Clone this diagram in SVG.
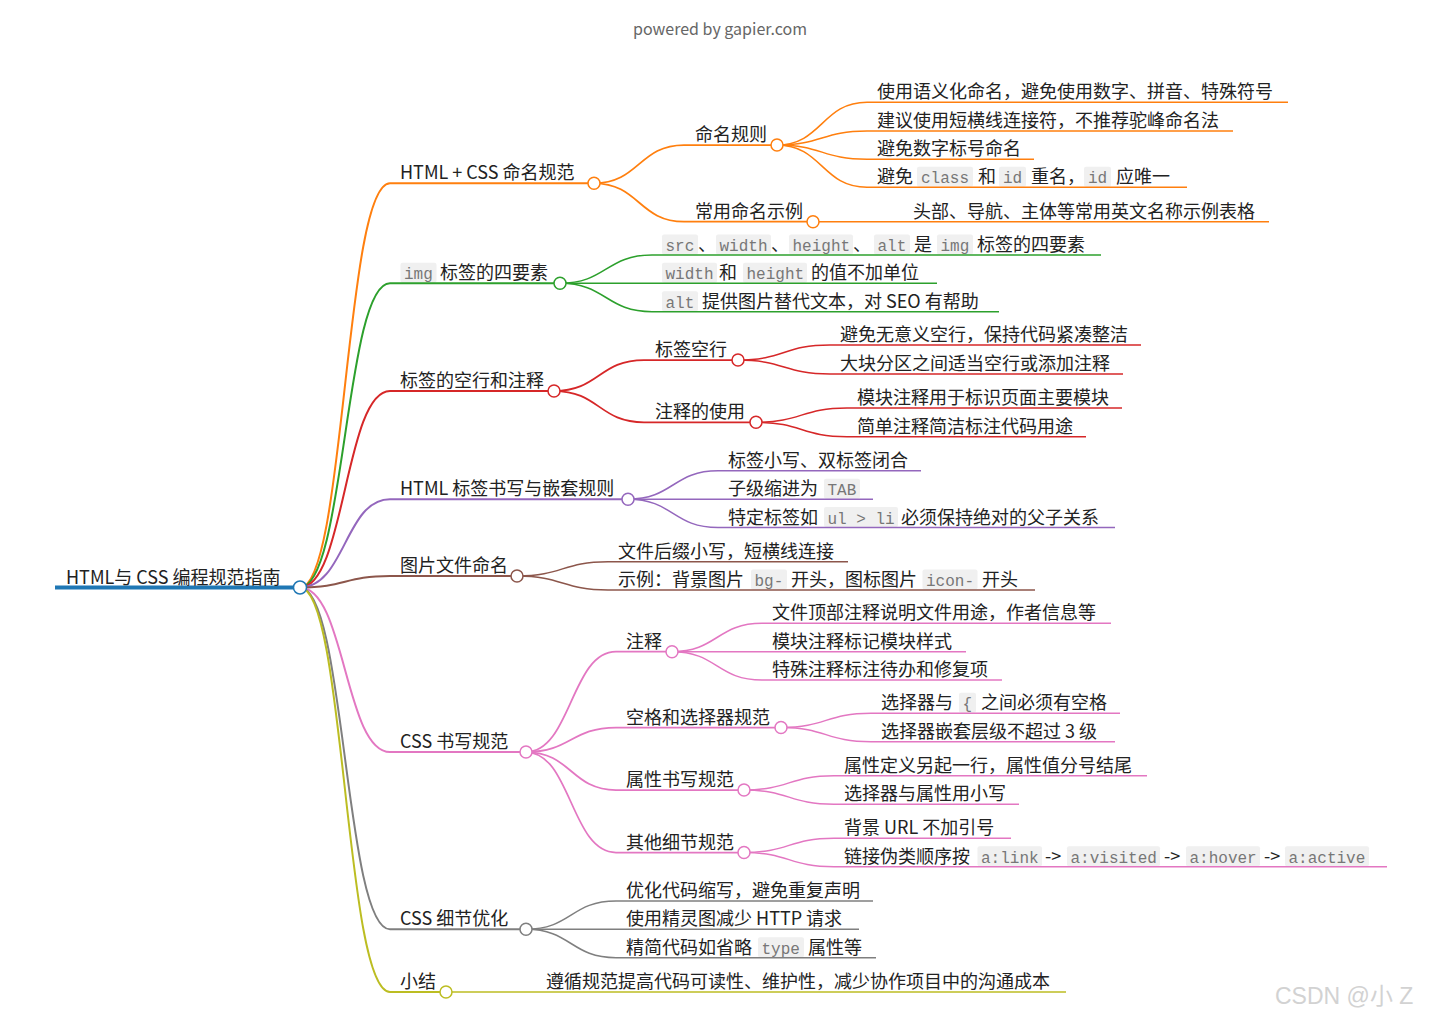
<svg xmlns="http://www.w3.org/2000/svg" width="1440" height="1021" viewBox="0 0 1440 1021">
<style>
text{font-family:"Noto Sans CJK SC","Noto Sans",sans-serif;font-size:18px;fill:#222}
text.m{font-family:"Liberation Mono","DejaVu Sans Mono",monospace;font-size:16px;fill:#777}
text.title{font-size:16px;fill:#666}
text.wm{font-family:"Liberation Sans","Noto Sans CJK SC",sans-serif;font-size:23px;fill:#d2d2d2}
.cb{fill:#f0f0f0}
path{fill:none}
.l1{stroke-width:2}
.l2{stroke-width:1.75}
.l3{stroke-width:1.5}
.dot{fill:#fff;stroke-width:1.5}
.c0{stroke:#1f77b4}.c1{stroke:#ff7f0e}.c2{stroke:#2ca02c}.c3{stroke:#d62728}.c4{stroke:#9467bd}
.c5{stroke:#8c564b}.c6{stroke:#e377c2}.c7{stroke:#7f7f7f}.c8{stroke:#bcbd22}
</style>
<text class="title" x="720" y="35" text-anchor="middle">powered by gapier.com</text>
<g id="connectors">
<path class="c1 l1" d="M300 587.5C345 587.5 345 183.3 390 183.3"/>
<path class="c2 l1" d="M300 587.5C345 587.5 345 283.3 390 283.3"/>
<path class="c3 l1" d="M300 587.5C345 587.5 345 391 390 391"/>
<path class="c4 l1" d="M300 587.5C345 587.5 345 499.2 390 499.2"/>
<path class="c5 l1" d="M300 587.5C345 587.5 345 576 390 576"/>
<path class="c6 l1" d="M300 587.5C345 587.5 345 752 390 752"/>
<path class="c7 l1" d="M300 587.5C345 587.5 345 929.3 390 929.3"/>
<path class="c8 l1" d="M300 587.5C345 587.5 345 992 390 992"/>
<path class="c1 l2" d="M594 183.3C639 183.3 639 145 684 145"/>
<path class="c1 l2" d="M594 183.3C639 183.3 639 221.7 684 221.7"/>
<path class="c1 l3" d="M777 145C822 145 822 102.3 867 102.3"/>
<path class="c1 l3" d="M777 145C822 145 822 131 867 131"/>
<path class="c1 l3" d="M777 145C822 145 822 159.3 867 159.3"/>
<path class="c1 l3" d="M777 145C822 145 822 187.3 867 187.3"/>
<path class="c1 l3" d="M813 221.7H903"/>
<path class="c2 l3" d="M560 283.3C606 283.3 606 255 652 255"/>
<path class="c2 l3" d="M560 283.3H652"/>
<path class="c2 l3" d="M560 283.3C606 283.3 606 311.7 652 311.7"/>
<path class="c3 l2" d="M554 391C599 391 599 360 644 360"/>
<path class="c3 l2" d="M554 391C599 391 599 422.3 644 422.3"/>
<path class="c3 l3" d="M738 360C784 360 784 345 830 345"/>
<path class="c3 l3" d="M738 360C784 360 784 374 830 374"/>
<path class="c3 l3" d="M756 422.3C801.5 422.3 801.5 408 847 408"/>
<path class="c3 l3" d="M756 422.3C801.5 422.3 801.5 436.7 847 436.7"/>
<path class="c4 l3" d="M628 499.2C673 499.2 673 470.8 718 470.8"/>
<path class="c4 l3" d="M628 499.2H718"/>
<path class="c4 l3" d="M628 499.2C673 499.2 673 527.6 718 527.6"/>
<path class="c5 l3" d="M517 576C562.5 576 562.5 561.7 608 561.7"/>
<path class="c5 l3" d="M517 576C562.5 576 562.5 590 608 590"/>
<path class="c6 l2" d="M526 752C571 752 571 651.7 616 651.7"/>
<path class="c6 l2" d="M526 752C571 752 571 727.5 616 727.5"/>
<path class="c6 l2" d="M526 752C571 752 571 790 616 790"/>
<path class="c6 l2" d="M526 752C571 752 571 852.5 616 852.5"/>
<path class="c6 l3" d="M672 651.7C717 651.7 717 623.3 762 623.3"/>
<path class="c6 l3" d="M672 651.7H762"/>
<path class="c6 l3" d="M672 651.7C717 651.7 717 680 762 680"/>
<path class="c6 l3" d="M781 727.5C826 727.5 826 713.3 871 713.3"/>
<path class="c6 l3" d="M781 727.5C826 727.5 826 741.7 871 741.7"/>
<path class="c6 l3" d="M744 790C789 790 789 775.7 834 775.7"/>
<path class="c6 l3" d="M744 790C789 790 789 804.3 834 804.3"/>
<path class="c6 l3" d="M744 852.5C789 852.5 789 838.3 834 838.3"/>
<path class="c6 l3" d="M744 852.5C789 852.5 789 866.7 834 866.7"/>
<path class="c7 l3" d="M526 929.3C571 929.3 571 901 616 901"/>
<path class="c7 l3" d="M526 929.3H616"/>
<path class="c7 l3" d="M526 929.3C571 929.3 571 957.7 616 957.7"/>
<path class="c8 l3" d="M446 992H536"/>
</g>

<g id="root">
<path class="c0" stroke-width="4" d="M55 587.5H300"/>
<circle class="dot c0" stroke-width="2" cx="300" cy="587.5" r="6.5"/>
<text x="66" y="583.5">HTML与 CSS 编程规范指南</text>
</g>

<!-- branch 1 -->
<g id="n1">
<path class="c1 l1" d="M390 183.3H594"/>
<circle class="dot c1" cx="594" cy="183.3" r="6"/>
<text x="400" y="179.3">HTML + CSS 命名规范</text>
</g>
<g id="n1-1">
<path class="c1 l2" d="M684 145H777"/>
<circle class="dot c1" cx="777" cy="145" r="6"/>
<text x="695" y="141">命名规则</text>
</g>
<g id="n1-1-1">
<path class="c1 l3" d="M867 102.3H1288"/>
<text x="877" y="98.3">使用语义化命名，避免使用数字、拼音、特殊符号</text>
</g>
<g id="n1-1-2">
<path class="c1 l3" d="M867 131H1233"/>
<text x="877" y="127">建议使用短横线连接符，不推荐驼峰命名法</text>
</g>
<g id="n1-1-3">
<path class="c1 l3" d="M867 159.3H1034"/>
<text x="877" y="155.3">避免数字标号命名</text>
</g>
<g id="n1-1-4">
<rect class="cb" x="917" y="166.8" width="56" height="20" rx="2"/>
<rect class="cb" x="999" y="166.8" width="27" height="20" rx="2"/>
<rect class="cb" x="1084" y="166.8" width="27" height="20" rx="2"/>
<path class="c1 l3" d="M867 187.3H1187"/>
<text x="877" y="183.3">避免</text>
<text class="m" x="921" y="183.3">class</text>
<text x="978" y="183.3">和</text>
<text class="m" x="1003" y="183.3">id</text>
<text x="1031" y="183.3">重名，</text>
<text class="m" x="1088" y="183.3">id</text>
<text x="1116" y="183.3">应唯一</text>
</g>
<g id="n1-2">
<path class="c1 l2" d="M684 221.7H813"/>
<circle class="dot c1" cx="813" cy="221.7" r="6"/>
<text x="695" y="217.7">常用命名示例</text>
</g>
<g id="n1-2-1">
<path class="c1 l3" d="M903 221.7H1269"/>
<text x="913" y="217.7">头部、导航、主体等常用英文名称示例表格</text>
</g>

<!-- branch 2 -->
<g id="n2">
<rect class="cb" x="400.5" y="262.8" width="36" height="20" rx="2"/>
<path class="c2 l1" d="M390 283.3H560"/>
<circle class="dot c2" cx="560" cy="283.3" r="6"/>
<text class="m" x="404" y="279.3">img</text>
<text x="440" y="279.3">标签的四要素</text>
</g>
<g id="n2-1">
<rect class="cb" x="662" y="234.5" width="36" height="20" rx="2"/>
<rect class="cb" x="716" y="234.5" width="55" height="20" rx="2"/>
<rect class="cb" x="789" y="234.5" width="64" height="20" rx="2"/>
<rect class="cb" x="874" y="234.5" width="36" height="20" rx="2"/>
<rect class="cb" x="937" y="234.5" width="36" height="20" rx="2"/>
<path class="c2 l3" d="M652 255H1101"/>
<text class="m" x="665.5" y="251">src</text>
<text x="698" y="251">、</text>
<text class="m" x="719.5" y="251">width</text>
<text x="771" y="251">、</text>
<text class="m" x="792.5" y="251">height</text>
<text x="853" y="251">、</text>
<text class="m" x="877.5" y="251">alt</text>
<text x="914" y="251">是</text>
<text class="m" x="940.5" y="251">img</text>
<text x="977" y="251">标签的四要素</text>
</g>
<g id="n2-2">
<rect class="cb" x="662" y="262.8" width="55" height="20" rx="2"/>
<rect class="cb" x="743" y="262.8" width="64" height="20" rx="2"/>
<path class="c2 l3" d="M652 283.3H937"/>
<text class="m" x="665.5" y="279.3">width</text>
<text x="719" y="279.3">和</text>
<text class="m" x="746.5" y="279.3">height</text>
<text x="811" y="279.3">的值不加单位</text>
</g>
<g id="n2-3">
<rect class="cb" x="662" y="291.2" width="36" height="20" rx="2"/>
<path class="c2 l3" d="M652 311.7H999"/>
<text class="m" x="665.5" y="307.7">alt</text>
<text x="702" y="307.7">提供图片替代文本，对 SEO 有帮助</text>
</g>

<!-- branch 3 -->
<g id="n3">
<path class="c3 l1" d="M390 391H554"/>
<circle class="dot c3" cx="554" cy="391" r="6"/>
<text x="400" y="387">标签的空行和注释</text>
</g>
<g id="n3-1">
<path class="c3 l2" d="M644 360H738"/>
<circle class="dot c3" cx="738" cy="360" r="6"/>
<text x="655" y="356">标签空行</text>
</g>
<g id="n3-1-1">
<path class="c3 l3" d="M830 345H1141"/>
<text x="840" y="341">避免无意义空行，保持代码紧凑整洁</text>
</g>
<g id="n3-1-2">
<path class="c3 l3" d="M830 374H1123"/>
<text x="840" y="370">大块分区之间适当空行或添加注释</text>
</g>
<g id="n3-2">
<path class="c3 l2" d="M644 422.3H756"/>
<circle class="dot c3" cx="756" cy="422.3" r="6"/>
<text x="655" y="418.3">注释的使用</text>
</g>
<g id="n3-2-1">
<path class="c3 l3" d="M847 408H1122"/>
<text x="857" y="404">模块注释用于标识页面主要模块</text>
</g>
<g id="n3-2-2">
<path class="c3 l3" d="M847 436.7H1086"/>
<text x="857" y="432.7">简单注释简洁标注代码用途</text>
</g>

<!-- branch 4 -->
<g id="n4">
<path class="c4 l1" d="M390 499.2H628"/>
<circle class="dot c4" cx="628" cy="499.2" r="6"/>
<text x="400" y="495.2">HTML 标签书写与嵌套规则</text>
</g>
<g id="n4-1">
<path class="c4 l3" d="M718 470.8H921"/>
<text x="728" y="466.8">标签小写、双标签闭合</text>
</g>
<g id="n4-2">
<rect class="cb" x="824" y="478.7" width="36" height="20" rx="2"/>
<path class="c4 l3" d="M718 499.2H873"/>
<text x="728" y="495.2">子级缩进为</text>
<text class="m" x="827.5" y="495.2">TAB</text>
</g>
<g id="n4-3">
<rect class="cb" x="824" y="507.1" width="74" height="20" rx="2"/>
<path class="c4 l3" d="M718 527.6H1115"/>
<text x="728" y="523.6">特定标签如</text>
<text class="m" x="827.5" y="523.6" xml:space="preserve">ul &gt; li</text>
<text x="901" y="523.6">必须保持绝对的父子关系</text>
</g>

<!-- branch 5 -->
<g id="n5">
<path class="c5 l1" d="M390 576H517"/>
<circle class="dot c5" cx="517" cy="576" r="6"/>
<text x="400" y="572">图片文件命名</text>
</g>
<g id="n5-1">
<path class="c5 l3" d="M608 561.7H848"/>
<text x="618" y="557.7">文件后缀小写，短横线连接</text>
</g>
<g id="n5-2">
<rect class="cb" x="751" y="569.5" width="36" height="20" rx="2"/>
<rect class="cb" x="922.5" y="569.5" width="55" height="20" rx="2"/>
<path class="c5 l3" d="M608 590H1035"/>
<text x="618" y="586">示例：背景图片</text>
<text class="m" x="754.5" y="586">bg-</text>
<text x="791" y="586">开头，图标图片</text>
<text class="m" x="926" y="586">icon-</text>
<text x="982" y="586">开头</text>
</g>

<!-- branch 6 -->
<g id="n6">
<path class="c6 l1" d="M390 752H526"/>
<circle class="dot c6" cx="526" cy="752" r="6"/>
<text x="400" y="748">CSS 书写规范</text>
</g>
<g id="n6-1">
<path class="c6 l2" d="M616 651.7H672"/>
<circle class="dot c6" cx="672" cy="651.7" r="6"/>
<text x="626" y="647.7">注释</text>
</g>
<g id="n6-1-1">
<path class="c6 l3" d="M762 623.3H1111"/>
<text x="772" y="619.3">文件顶部注释说明文件用途，作者信息等</text>
</g>
<g id="n6-1-2">
<path class="c6 l3" d="M762 651.7H966"/>
<text x="772" y="647.7">模块注释标记模块样式</text>
</g>
<g id="n6-1-3">
<path class="c6 l3" d="M762 680H1002"/>
<text x="772" y="676">特殊注释标注待办和修复项</text>
</g>
<g id="n6-2">
<path class="c6 l2" d="M616 727.5H781"/>
<circle class="dot c6" cx="781" cy="727.5" r="6"/>
<text x="626" y="723.5">空格和选择器规范</text>
</g>
<g id="n6-2-1">
<rect class="cb" x="959" y="692.8" width="17" height="20" rx="2"/>
<path class="c6 l3" d="M871 713.3H1120"/>
<text x="881" y="709.3">选择器与</text>
<text class="m" x="962.5" y="709.3">{</text>
<text x="981" y="709.3">之间必须有空格</text>
</g>
<g id="n6-2-2">
<path class="c6 l3" d="M871 741.7H1115"/>
<text x="881" y="737.7">选择器嵌套层级不超过 3 级</text>
</g>
<g id="n6-3">
<path class="c6 l2" d="M616 790H744"/>
<circle class="dot c6" cx="744" cy="790" r="6"/>
<text x="626" y="786">属性书写规范</text>
</g>
<g id="n6-3-1">
<path class="c6 l3" d="M834 775.7H1147"/>
<text x="844" y="771.7">属性定义另起一行，属性值分号结尾</text>
</g>
<g id="n6-3-2">
<path class="c6 l3" d="M834 804.3H1019"/>
<text x="844" y="800.3">选择器与属性用小写</text>
</g>
<g id="n6-4">
<path class="c6 l2" d="M616 852.5H744"/>
<circle class="dot c6" cx="744" cy="852.5" r="6"/>
<text x="626" y="848.5">其他细节规范</text>
</g>
<g id="n6-4-1">
<path class="c6 l3" d="M834 838.3H1011"/>
<text x="844" y="834.3">背景 URL 不加引号</text>
</g>
<g id="n6-4-2">
<rect class="cb" x="977.5" y="846.2" width="64.5" height="20" rx="2"/>
<rect class="cb" x="1067" y="846.2" width="93" height="20" rx="2"/>
<rect class="cb" x="1186" y="846.2" width="74" height="20" rx="2"/>
<rect class="cb" x="1285" y="846.2" width="84" height="20" rx="2"/>
<path class="c6 l3" d="M834 866.7H1387"/>
<text x="844" y="862.7">链接伪类顺序按</text>
<text class="m" x="981" y="862.7">a:link</text>
<text x="1045" y="862.7">-&gt;</text>
<text class="m" x="1070.5" y="862.7">a:visited</text>
<text x="1164" y="862.7">-&gt;</text>
<text class="m" x="1189.5" y="862.7">a:hover</text>
<text x="1264" y="862.7">-&gt;</text>
<text class="m" x="1288.5" y="862.7">a:active</text>
</g>

<!-- branch 7 -->
<g id="n7">
<path class="c7 l1" d="M390 929.3H526"/>
<circle class="dot c7" cx="526" cy="929.3" r="6"/>
<text x="400" y="925.3">CSS 细节优化</text>
</g>
<g id="n7-1">
<path class="c7 l3" d="M616 901H873"/>
<text x="626" y="897">优化代码缩写，避免重复声明</text>
</g>
<g id="n7-2">
<path class="c7 l3" d="M616 929.3H859"/>
<text x="626" y="925.3">使用精灵图减少 HTTP 请求</text>
</g>
<g id="n7-3">
<rect class="cb" x="758" y="937.2" width="46" height="20" rx="2"/>
<path class="c7 l3" d="M616 957.7H876"/>
<text x="626" y="953.7">精简代码如省略</text>
<text class="m" x="761.5" y="953.7">type</text>
<text x="808" y="953.7">属性等</text>
</g>

<!-- branch 8 -->
<g id="n8">
<path class="c8 l1" d="M390 992H446"/>
<circle class="dot c8" cx="446" cy="992" r="6"/>
<text x="400" y="988">小结</text>
</g>
<g id="n8-1">
<path class="c8 l3" d="M536 992H1066"/>
<text x="546" y="988">遵循规范提高代码可读性、维护性，减少协作项目中的沟通成本</text>
</g>

<text class="wm" x="1275" y="1004">CSDN @小 Z</text>
</svg>
